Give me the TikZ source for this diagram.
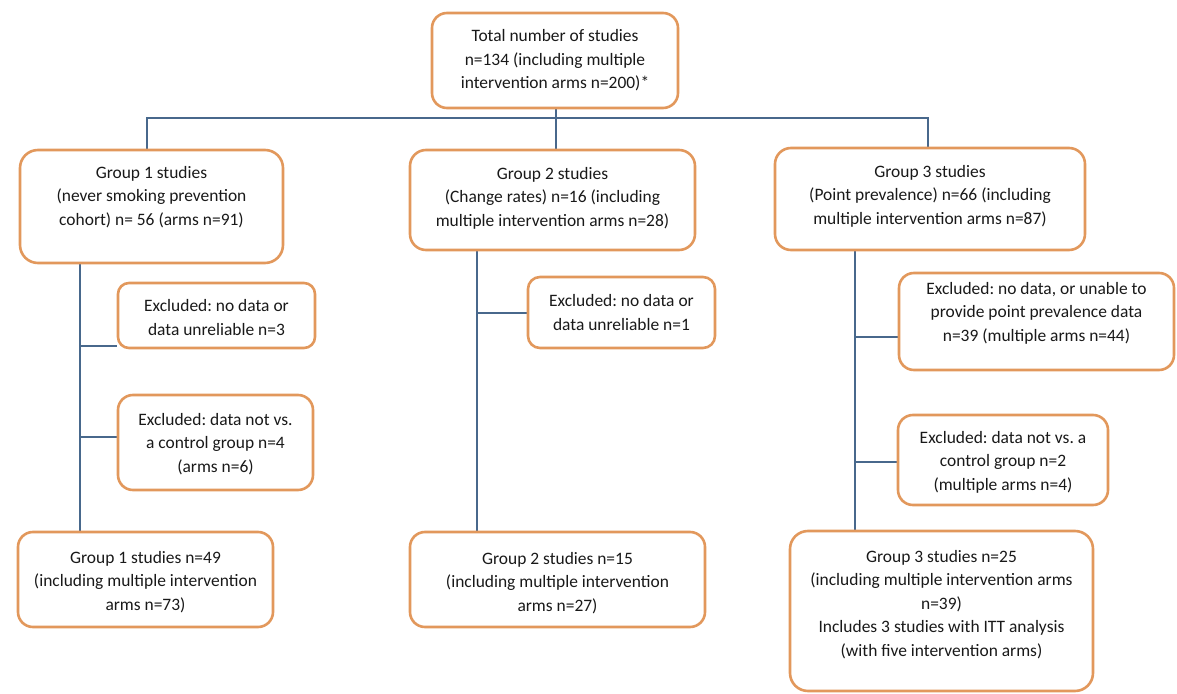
\documentclass[tikz,border=0pt]{standalone}
\usepackage{fontspec}
\setmainfont{Carlito}
\frenchspacing
\definecolor{boxc}{RGB}{226,152,92}
\definecolor{linec}{RGB}{72,104,140}
\definecolor{txtc}{RGB}{25,25,25}
\pgfdeclarelayer{bg}
\pgfsetlayers{bg,main}
\begin{document}
\begin{tikzpicture}[x=1bp,y=-1bp,
  box/.style={draw=boxc, line width=2.6bp, fill=white, rounded corners=#1, inner sep=0pt},
  box/.default=14bp,
  txt/.style={align=center, font=\fontsize{17.5}{23.5}\selectfont, text=txtc, inner sep=0pt},
  conn/.style={draw=linec, line width=1.3bp}]
\useasboundingbox (0,0) rectangle (1177,694);

% boxes
\node[box=15bp, minimum width=246bp, minimum height=95bp] (top) at (555,60.5) {};
\node[box=18bp, minimum width=263bp, minimum height=113bp] (g1) at (151.5,206.5) {};
\node[box=16bp, minimum width=285bp, minimum height=100bp] (g2) at (552.5,200) {};
\node[box=16bp, minimum width=310bp, minimum height=102bp] (g3) at (930,199) {};
\node[box=11bp, minimum width=197bp, minimum height=65bp] (e11) at (216.5,315.5) {};
\node[box=15bp, minimum width=195bp, minimum height=95bp] (e12) at (215.5,442.5) {};
\node[box=15bp, minimum width=255bp, minimum height=95bp] (g1f) at (145.5,579.5) {};
\node[box=12bp, minimum width=187bp, minimum height=71bp] (e21) at (621.5,312.5) {};
\node[box=15bp, minimum width=295bp, minimum height=95bp] (g2f) at (557.5,579.5) {};
\node[box=15bp, minimum width=275bp, minimum height=97bp] (e31) at (1036.5,321.5) {};
\node[box=15bp, minimum width=210bp, minimum height=90bp] (e32) at (1003,460) {};
\node[box=18bp, minimum width=303bp, minimum height=160bp] (g3f) at (941.5,611) {};

% texts
\node[txt] (topt) at ([yshift=0bp]top.center) {Total number of studies\\n=134 (including multiple\\intervention arms n=200)*};
\node[txt] (g1t) at ([yshift=9.5bp]g1.center) {Group 1 studies\\(never smoking prevention\\cohort) n= 56 (arms n=91)};
\node[txt] (g2t) at ([yshift=2bp]g2.center) {Group 2 studies\\(Change rates) n=16 (including\\multiple intervention arms n=28)};
\node[txt] (g3t) at ([yshift=3bp]g3.center) {Group 3 studies\\(Point prevalence) n=66 (including\\multiple intervention arms n=87)};
\node[txt] (e11t) at ([yshift=-2bp]e11.center) {Excluded: no data or\\data unreliable n=3};
\node[txt] (e12t) at ([yshift=-1.5bp]e12.center) {Excluded: data not vs.\\a control group n=4\\(arms n=6)};
\node[txt] (g1ft) at ([yshift=-2.5bp]g1f.center) {Group 1 studies n=49\\(including multiple intervention\\arms n=73)};
\node[txt] (e21t) at (e21.center) {Excluded: no data or\\data unreliable n=1};
\node[txt] (g2ft) at ([yshift=-3.5bp]g2f.center) {Group 2 studies n=15\\(including multiple intervention\\arms n=27)};
\node[txt] (e31t) at ([yshift=8.5bp]e31.center) {Excluded: no data, or unable to\\provide point prevalence data\\n=39 (multiple arms n=44)};
\node[txt] (e32t) at ([yshift=-2bp]e32.center) {Excluded: data not vs. a\\control group n=2\\(multiple arms n=4)};
\node[txt] (g3ft) at ([yshift=6.5bp]g3f.center) {Group 3 studies n=25\\(including multiple intervention arms\\n=39)\\Includes 3 studies with ITT analysis\\(with five intervention arms)};

% connectors
\coordinate (hl) at (147,118);
\coordinate (hr) at (928,118);
\coordinate (t1) at (80,0);
\coordinate (t2) at (477,0);
\coordinate (t3) at (855,0);
\begin{pgfonlayer}{bg}
\draw[conn] (top.south -| 556,0) -- (g2.north -| 556,0);
\draw[conn] (hl |- g1.north) -- (hl) -- (hr) -- (hr |- g3.north);
\draw[conn] (t1 |- g1.south) -- (t1 |- g1f.north);
\draw[conn] (t1 |- 0,346) -- (e11.west |- 0,346);
\draw[conn] (t1 |- 0,437) -- (e12.west |- 0,437);
\draw[conn] (t2 |- g2.south) -- (t2 |- g2f.north);
\draw[conn] (t2 |- 0,313) -- (e21.west |- 0,313);
\draw[conn] (t3 |- g3.south) -- (t3 |- g3f.north);
\draw[conn] (t3 |- 0,337) -- (e31.west |- 0,337);
\draw[conn] (t3 |- 0,462) -- (e32.west |- 0,462);
\end{pgfonlayer}
\end{tikzpicture}
\end{document}
